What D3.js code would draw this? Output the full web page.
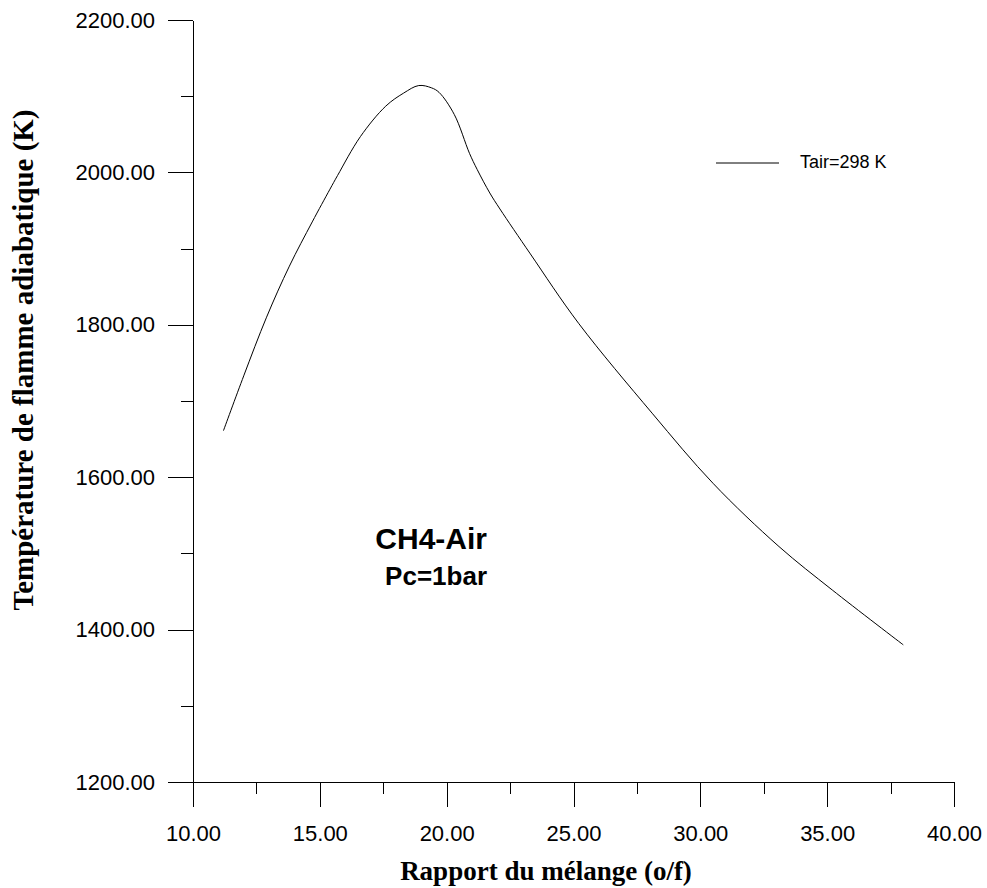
<!DOCTYPE html>
<html>
<head>
<meta charset="utf-8">
<script src="https://cdn.jsdelivr.net/npm/d3@7"></script>
<style>
  body { margin: 0; background: #fff; }
  svg { display: block; }
  .axis path, .axis line { stroke: #000; stroke-width: 1; shape-rendering: crispEdges; }
  .axis text { font-family: "Liberation Sans", Arial, sans-serif; fill: #000; }
</style>
</head>
<body>
<svg width="987" height="888"></svg>
<script>
// values: mixture ratio (o/f) and adiabatic flame temperature (K)
var ratio = [11.2, 12.0, 12.9, 13.8, 14.7, 15.4, 15.7, 16.6, 17.6, 18.3, 18.9, 19.4, 19.7,
             20.3, 20.9, 21.2, 21.7, 22.1, 23.3, 25.2, 28.1, 30.5, 33.1, 35.2, 38.0];
var tempK = [1661, 1733, 1810, 1877, 1935, 1978, 1996, 2047, 2087, 2104, 2114, 2111, 2105,
             2076, 2025, 2004, 1973, 1952, 1893, 1802, 1684, 1592, 1509, 1452, 1380];

var xMajor = [10, 15, 20, 25, 30, 35, 40];
var xMinor = [12.5, 17.5, 22.5, 27.5, 32.5, 37.5];
var yMajor = [1200, 1400, 1600, 1800, 2000, 2200];
var yMinor = [1300, 1500, 1700, 1900, 2100];

var seriesName = "Tair=298 K";

var svg = d3.select("svg");

var x = d3.scaleLinear().domain([10, 40]).range([193, 954]);
var y = d3.scaleLinear().domain([1200, 2200]).range([782, 20]);

// minor ticks first, no labels
svg.append("g")
  .attr("class", "axis")
  .attr("transform", "translate(0,782)")
  .call(d3.axisBottom(x).tickValues(xMinor).tickSize(12).tickSizeOuter(0).tickFormat(""));

svg.append("g")
  .attr("class", "axis")
  .attr("transform", "translate(193,0)")
  .call(d3.axisLeft(y).tickValues(yMinor).tickSize(12).tickSizeOuter(0).tickFormat(""));

// major ticks with labels
svg.append("g")
  .attr("class", "axis")
  .attr("transform", "translate(0,782)")
  .call(d3.axisBottom(x).tickValues(xMajor).tickSize(25).tickSizeOuter(0)
    .tickPadding(18).tickFormat(d3.format(".2f")))
  .attr("font-size", 22);

svg.append("g")
  .attr("class", "axis")
  .attr("transform", "translate(193,0)")
  .call(d3.axisLeft(y).tickValues(yMajor).tickSize(25).tickSizeOuter(0)
    .tickPadding(13).tickFormat(d3.format(".2f")))
  .attr("font-size", 22);

// the curve
var line = d3.line()
  .x(function (d, i) { return x(ratio[i]); })
  .y(function (d) { return y(d); })
  .curve(d3.curveCatmullRom.alpha(0.5));

svg.append("path")
  .datum(tempK)
  .attr("d", line)
  .attr("fill", "none")
  .attr("stroke", "#000")
  .attr("stroke-width", 1);

// legend
svg.append("line")
  .attr("x1", 716).attr("x2", 779)
  .attr("y1", 163).attr("y2", 163)
  .attr("stroke", "#000");

svg.append("text")
  .attr("x", 800).attr("y", 168)
  .style("font-family", "Liberation Sans, Arial, sans-serif")
  .style("font-size", "18px")
  .text(seriesName);

// annotation
svg.append("text")
  .attr("x", 487).attr("y", 549)
  .attr("text-anchor", "end")
  .style("font-family", "Liberation Sans, Arial, sans-serif")
  .style("font-weight", "bold")
  .style("font-size", "30px")
  .text("CH4-Air");

svg.append("text")
  .attr("x", 487).attr("y", 585)
  .attr("text-anchor", "end")
  .style("font-family", "Liberation Sans, Arial, sans-serif")
  .style("font-weight", "bold")
  .style("font-size", "26px")
  .text("Pc=1bar");

// axis titles
svg.append("text")
  .attr("x", 546).attr("y", 880)
  .attr("text-anchor", "middle")
  .style("font-family", "Liberation Serif, Times New Roman, serif")
  .style("font-weight", "bold")
  .style("font-size", "27px")
  .text("Rapport du mélange (o/f)");

svg.append("text")
  .attr("transform", "translate(33,360) rotate(-90)")
  .attr("text-anchor", "middle")
  .style("font-family", "Liberation Serif, Times New Roman, serif")
  .style("font-weight", "bold")
  .style("font-size", "29px")
  .text("Température de flamme adiabatique (K)");
</script>
</body>
</html>
